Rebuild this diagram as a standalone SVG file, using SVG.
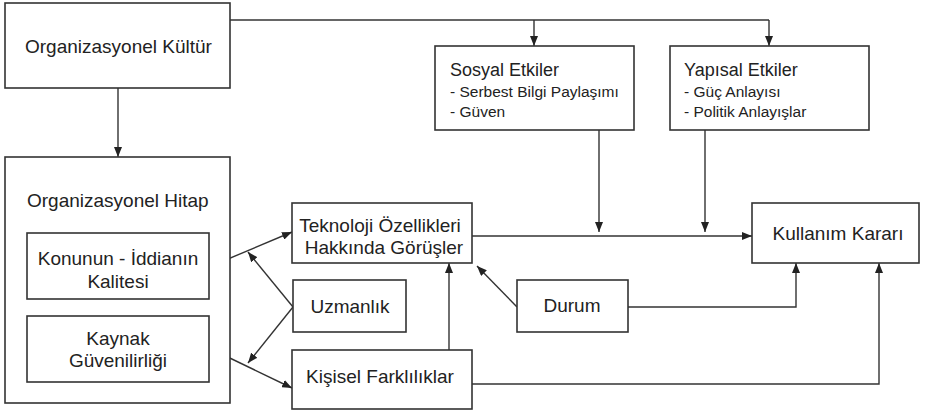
<svg xmlns="http://www.w3.org/2000/svg" width="926" height="414" viewBox="0 0 926 414">
<defs>
<marker id="ah" viewBox="0 0 10 8" refX="10" refY="4" markerWidth="10" markerHeight="8" markerUnits="userSpaceOnUse" orient="auto">
<path d="M0,0 L10,4 L0,8 z" fill="#222"/>
</marker>
</defs>
<style>
.box{fill:#fff;stroke:#333;stroke-width:1.6}
.t{font-family:"Liberation Sans","Arial",sans-serif;font-size:19px;fill:#222}
.h{font-family:"Liberation Sans","Arial",sans-serif;font-size:18px;fill:#222}
.s{font-family:"Liberation Sans","Arial",sans-serif;font-size:15.5px;fill:#222}
.m{text-anchor:middle}
.c{fill:none;stroke:#333;stroke-width:1.4;marker-end:url(#ah)}
.l{fill:none;stroke:#333;stroke-width:1.4}
</style>
<g id="connectors">
<path class="l" d="M230,20 H769"/>
<path class="c" d="M534,20 V46"/>
<path class="c" d="M769,20 V46"/>
<path class="c" d="M118,88 V157"/>
<path class="c" d="M599,130 V232"/>
<path class="c" d="M705,130 V232"/>
<path class="c" d="M472,236 H752"/>
<path class="c" d="M209,267 L292,232"/>
<path class="c" d="M293,307 L248,252"/>
<path class="c" d="M293,307 L248,363"/>
<path class="c" d="M209,348 L292,388"/>
<path class="c" d="M449,350 V263"/>
<path class="c" d="M517,307 L477,266"/>
<path class="c" d="M628,307 H796 V263"/>
<path class="c" d="M472,384 H879 V263"/>
</g>
<g id="org-kultur">
<rect class="box" x="5" y="3" width="225" height="85"/>
<text class="t" x="25" y="53">Organizasyonel Kültür</text>
</g>
<g id="sosyal">
<rect class="box" x="435" y="46" width="199" height="84"/>
<text class="h" x="450" y="76">Sosyal Etkiler</text>
<text class="s" x="450" y="97">- Serbest Bilgi Paylaşımı</text>
<text class="s" x="450" y="117">- Güven</text>
</g>
<g id="yapisal">
<rect class="box" x="670" y="46" width="199" height="84"/>
<text class="h" x="684" y="76">Yapısal Etkiler</text>
<text class="s" x="684" y="97">- Güç Anlayısı</text>
<text class="s" x="684" y="117">- Politik Anlayışlar</text>
</g>
<g id="org-hitap">
<rect class="box" x="5" y="157" width="225" height="246"/>
<text class="t" x="27" y="207">Organizasyonel Hitap</text>
</g>
<g id="konunun">
<rect class="box" x="27" y="233" width="182" height="66"/>
<text class="t m" x="118" y="265">Konunun - İddianın</text>
<text class="t m" x="118" y="288">Kalitesi</text>
</g>
<g id="kaynak">
<rect class="box" x="27" y="316" width="182" height="66"/>
<text class="t m" x="118" y="345">Kaynak</text>
<text class="t m" x="118" y="367">Güvenilirliği</text>
</g>
<g id="teknoloji">
<rect class="box" x="292" y="203" width="180" height="60"/>
<text class="t m" x="380" y="232">Teknoloji Özellikleri</text>
<text class="t m" x="384" y="254">Hakkında Görüşler</text>
</g>
<g id="uzmanlik">
<rect class="box" x="293" y="280" width="113" height="52"/>
<text class="t m" x="350" y="313">Uzmanlık</text>
</g>
<g id="kisisel">
<rect class="box" x="292" y="350" width="180" height="59"/>
<text class="t m" x="380" y="383">Kişisel Farklılıklar</text>
</g>
<g id="durum">
<rect class="box" x="517" y="280" width="111" height="52"/>
<text class="t m" x="572" y="312">Durum</text>
</g>
<g id="kullanim">
<rect class="box" x="752" y="203" width="167" height="60"/>
<text class="t m" x="838" y="240">Kullanım Kararı</text>
</g>
</svg>
